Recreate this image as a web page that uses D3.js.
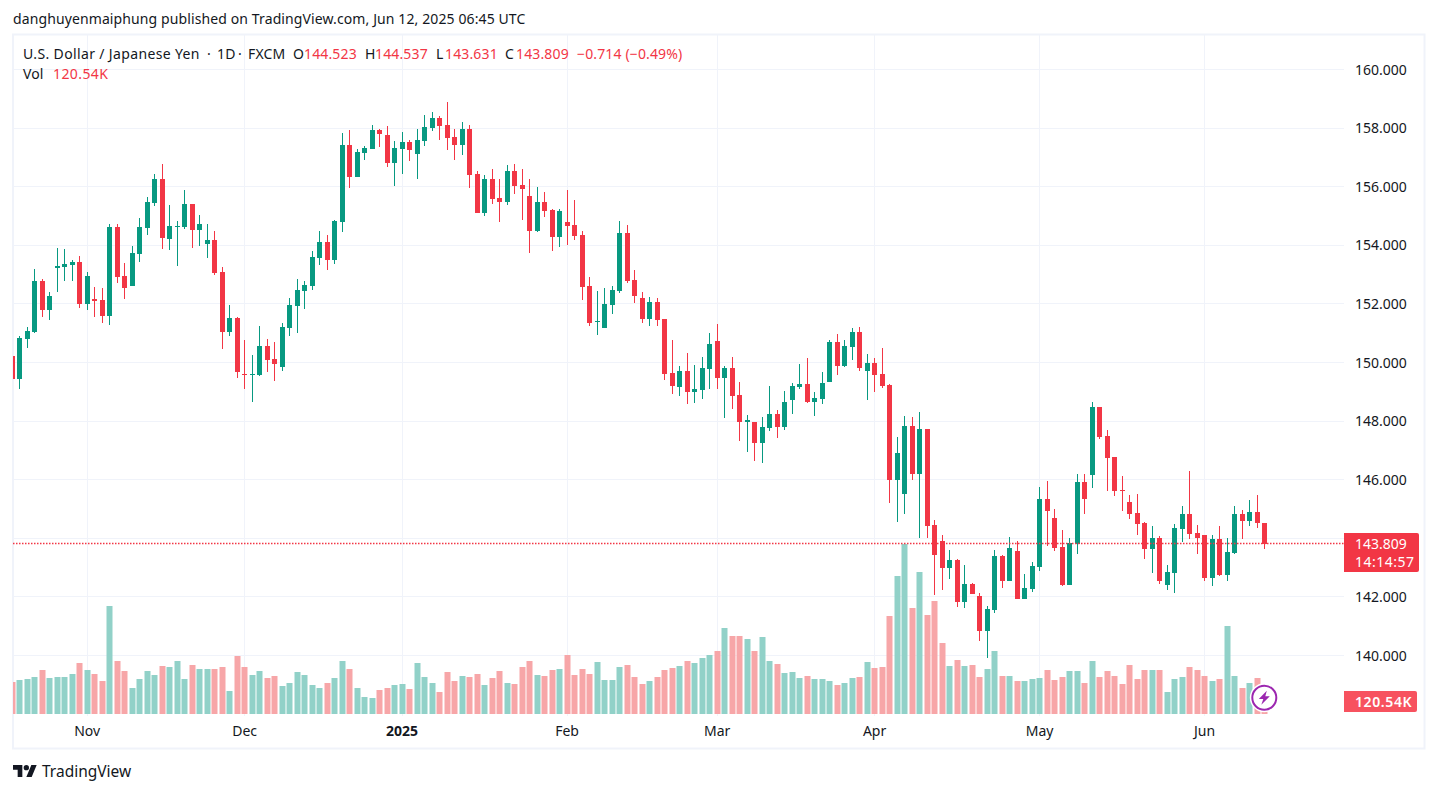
<!DOCTYPE html>
<html><head><meta charset="utf-8">
<script src="https://cdn.jsdelivr.net/npm/d3@7"></script>
<style>html,body{margin:0;padding:0;background:#fff;overflow:hidden}text{font-family:"Noto Sans",sans-serif}</style>
</head><body><svg id="c" width="1438" height="793"></svg>
<script>
const opens=[150.22,149.45,150.81,151.04,152.78,151.79,153.22,153.26,153.33,153.43,
152.00,152.16,152.13,151.59,154.62,152.95,152.61,153.70,154.59,155.44,
156.26,154.21,154.62,154.62,155.41,154.52,154.04,154.18,153.09,151.04,
151.52,149.61,149.57,149.57,150.56,150.12,149.85,151.18,151.93,152.44,
152.61,153.57,154.11,153.50,154.79,157.42,156.33,157.15,157.29,157.93,
157.76,156.81,157.29,157.53,157.12,157.56,158.00,158.34,158.11,157.70,
157.42,157.97,156.43,155.10,156.26,155.61,155.48,156.54,156.06,155.68,
154.49,155.48,155.20,154.28,154.79,154.69,154.35,152.61,151.38,151.18,
151.96,152.44,154.42,152.82,152.20,151.48,152.06,151.48,149.64,149.16,
149.71,148.99,149.06,149.77,150.73,149.47,149.81,148.89,147.97,147.97,
147.25,147.76,148.24,147.80,148.72,149.16,149.26,148.65,148.75,149.33,
150.70,149.88,150.53,151.04,149.71,149.98,149.60,149.23,145.99,145.51,
147.83,146.19,147.73,144.45,143.90,142.98,143.26,141.82,142.44,142.03,
140.83,141.55,143.39,142.54,143.56,141.93,142.27,143.02,145.34,144.69,
143.70,142.40,143.80,145.92,146.16,148.48,147.49,146.77,145.65,145.24,
144.86,144.52,143.63,144.01,142.40,142.81,144.32,144.83,144.18,144.11,
142.64,143.97,142.75,143.50,144.83,144.59,144.90,144.523];
const highs=[150.22,150.90,151.20,153.18,152.84,152.41,153.90,153.86,153.50,153.63,
153.08,152.58,152.53,154.73,154.72,153.40,153.98,154.93,155.65,156.43,
156.77,155.37,154.83,155.89,155.41,155.03,154.73,154.49,153.26,151.96,
151.55,150.77,150.26,151.25,150.80,150.70,151.35,152.20,152.85,152.78,
153.80,154.49,154.35,154.86,157.83,157.93,157.29,157.39,158.11,157.97,
158.07,157.56,157.87,157.59,157.97,158.45,158.55,158.41,158.89,157.97,
158.21,158.11,156.54,156.40,156.60,156.26,156.74,156.77,156.60,156.26,
155.99,155.82,155.24,155.24,155.89,155.55,154.49,152.92,152.44,152.54,
152.61,154.83,154.69,153.16,152.41,152.23,152.20,151.50,150.76,149.88,
150.32,149.91,150.18,151.00,151.31,149.88,150.18,149.33,148.20,147.97,
148.14,149.19,148.38,149.02,149.30,149.95,150.15,148.99,149.67,150.76,
150.97,150.76,151.17,151.21,150.29,150.15,150.49,149.26,147.45,148.17,
148.14,148.31,147.73,144.62,144.11,143.60,143.29,143.09,142.47,142.13,
141.69,143.60,143.43,144.04,143.91,142.78,143.19,145.75,145.95,145.00,
144.28,144.01,146.19,146.19,148.65,148.48,147.69,146.77,146.12,145.48,
145.51,144.55,144.42,144.08,143.09,144.49,145.10,146.30,144.45,144.11,
144.11,144.42,144.01,145.10,144.96,145.31,145.48,144.537];
const lows=[149.45,149.09,150.51,151.01,151.55,151.45,152.41,152.78,152.78,151.86,
151.79,151.55,151.36,151.28,152.72,152.17,152.61,153.43,154.35,155.34,
153.87,153.84,153.29,154.56,153.91,153.98,153.57,152.99,150.46,150.90,
149.47,149.09,148.65,149.54,149.68,149.37,149.71,150.90,151.01,151.83,
152.47,153.33,153.16,153.36,154.45,155.96,156.33,156.91,157.29,157.35,
156.67,156.02,156.43,156.88,156.26,157.39,157.90,157.59,157.25,156.91,
157.08,155.96,155.10,155.00,155.41,154.79,155.37,155.75,154.86,153.74,
154.45,154.97,153.80,153.94,154.01,154.18,152.13,151.25,150.94,151.18,
151.65,152.37,152.71,152.03,151.35,151.25,151.24,149.40,148.92,148.85,
148.58,148.61,148.75,149.09,149.09,148.10,148.41,147.32,146.94,146.63,
146.57,147.66,147.42,147.69,148.24,149.09,148.61,148.17,148.58,149.33,
149.57,149.84,150.08,149.71,148.72,148.99,149.13,145.20,144.55,144.83,
145.99,144.01,144.01,142.06,142.23,142.61,141.65,141.62,142.10,140.49,
139.91,141.45,142.30,142.54,141.93,141.93,142.17,142.88,143.74,143.56,
142.37,142.40,143.46,144.83,145.72,147.39,145.61,145.44,144.93,144.66,
144.11,143.29,142.81,142.44,142.23,142.13,143.87,143.97,143.46,142.54,
142.37,142.71,142.54,143.46,143.97,144.42,144.35,143.631];
const closes=[149.45,150.84,151.07,152.78,151.79,152.27,153.29,153.36,153.43,152.00,
152.95,152.10,151.59,154.62,152.92,152.54,153.74,154.62,155.48,156.26,
154.25,154.66,154.66,155.41,154.52,154.73,154.18,153.05,151.04,151.52,
149.68,149.57,149.61,150.56,150.08,149.95,151.21,151.96,152.47,152.64,
153.60,154.11,153.50,154.83,157.42,156.33,157.18,157.32,157.93,157.80,
156.81,157.32,157.53,157.25,157.59,158.04,158.34,158.07,157.66,157.42,
157.97,156.40,155.10,156.26,155.58,155.48,156.54,156.02,155.92,154.49,
155.48,155.17,154.28,155.17,154.66,154.32,152.58,151.35,151.42,152.00,
152.47,154.42,152.78,152.27,151.48,152.06,151.45,149.60,149.19,149.71,
148.99,149.09,149.81,150.63,149.47,149.81,148.85,147.97,148.03,147.25,
147.80,148.24,147.80,148.65,149.19,149.26,148.65,148.79,149.30,150.70,
149.88,150.56,151.04,149.81,149.98,149.57,149.19,145.99,146.91,147.83,
146.19,147.73,144.42,143.43,142.98,143.26,141.82,142.44,142.10,140.83,
141.59,143.39,142.54,143.67,141.93,142.30,143.05,145.34,144.93,143.67,
142.40,143.84,145.92,145.34,148.48,147.46,146.74,145.61,145.61,144.83,
144.49,143.63,144.01,142.54,142.85,144.35,144.83,144.15,144.01,142.64,
143.97,142.75,143.53,144.83,144.59,144.90,144.52,143.809];
const volumes=[311,327,337,356,424,347,356,356,385,491,
424,385,318,1040,510,414,250,337,414,376,
462,453,510,337,472,433,433,433,453,221,
559,453,376,414,347,366,270,299,404,376,
279,250,299,347,510,433,250,164,154,231,
250,279,289,241,491,356,299,212,404,318,
366,356,385,279,347,414,299,289,453,510,
376,366,424,433,568,376,433,385,501,327,
327,453,472,356,289,318,356,424,443,462,
510,491,539,568,607,828,751,751,722,607,
742,510,482,395,404,347,366,337,337,318,
279,299,347,356,501,443,453,944,1329,1637,
1021,1367,953,1088,684,462,520,462,472,356,
433,607,366,366,318,318,337,347,424,327,
356,414,414,299,510,356,414,366,289,472,
337,424,424,424,212,337,356,453,424,366,
318,337,847,366,250,299,347,120.54];
const priceTicks=[140,142,144,146,148,150,152,154,156,158,160];
const monthIndex=[10,31,52,74,94,115,137,159];
const monthLabels=["Nov","Dec","2025","Feb","Mar","Apr","May","Jun"];
const lastPrice=143.809;
const titleText="danghuyenmaiphung published on TradingView.com, Jun 12, 2025 06:45 UTC";

const UP="#089981",DOWN="#F23645",TXT="#131722",GRID="#f0f3fa";
const svg=d3.select("#c");
const x=d3.scaleLinear().domain([0,167]).range([11.9,1264.4]);
const y=d3.scaleLinear().domain([140,160]).range([655.5,69.5]);
const v=d3.scaleLinear().domain([0,1637]).range([714,544]);
const px=i=>Math.round(x(i));
const crisp=p=>Math.round(p);

svg.append("rect").attr("width",1438).attr("height",793).attr("fill","#fff");
const defs=svg.append("defs");
defs.append("clipPath").attr("id","pane").append("rect").attr("x",13).attr("y",35).attr("width",1331).attr("height",681);

svg.append("rect").attr("x",13).attr("y",34.5).attr("width",1411.5).attr("height",714)
  .attr("fill","none").attr("stroke",GRID).attr("stroke-width",2);

svg.append("g").selectAll("line").data(priceTicks).join("line")
  .attr("x1",13).attr("x2",1344).attr("y1",d=>Math.floor(y(d))+.5).attr("y2",d=>Math.floor(y(d))+.5)
  .attr("stroke",GRID);
svg.append("g").selectAll("line").data(monthIndex).join("line")
  .attr("x1",d=>px(d)+.5).attr("x2",d=>px(d)+.5).attr("y1",35).attr("y2",716)
  .attr("stroke",GRID);

const idx=d3.range(opens.length);
const plot=svg.append("g").attr("clip-path","url(#pane)");
plot.append("g").selectAll("rect").data(idx).join("rect")
  .attr("x",i=>px(i)-2.5).attr("width",6)
  .attr("y",i=>crisp(v(volumes[i]))).attr("height",i=>714-crisp(v(volumes[i])))
  .attr("fill",i=>closes[i]>=opens[i]?"#91d1c8":"#f7a6a8");

const yAxis=d3.axisRight(y).tickValues(priceTicks).tickFormat(d3.format(".3f")).tickSize(0).tickPadding(11);
const ya=svg.append("g").attr("transform","translate(1344,0.2)").call(yAxis);
ya.select(".domain").remove();
ya.selectAll("text").attr("fill",TXT).attr("font-size",14).style("font-family",'"Noto Sans",sans-serif');

const xAxis=d3.axisBottom(x).tickValues(monthIndex).tickFormat((d,i)=>monthLabels[i]).tickSize(0).tickPadding(10);
const xa=svg.append("g").attr("transform","translate(-0.3,716)").call(xAxis);
xa.select(".domain").remove();
xa.selectAll("text").attr("fill",TXT).attr("font-size",14).style("font-family",'"Noto Sans",sans-serif')
  .attr("font-weight",(d,i)=>monthLabels[i]==="2025"?700:400);

plot.append("g").selectAll("rect").data(idx).join("rect")
  .attr("x",i=>px(i)).attr("width",1)
  .attr("y",i=>crisp(y(highs[i]))).attr("height",i=>Math.max(1,crisp(y(lows[i]))-crisp(y(highs[i]))))
  .attr("fill",i=>closes[i]>=opens[i]?UP:DOWN);
plot.append("g").selectAll("rect").data(idx).join("rect")
  .attr("x",i=>px(i)-2).attr("width",5)
  .attr("y",i=>crisp(y(Math.max(opens[i],closes[i]))))
  .attr("height",i=>Math.max(1,crisp(y(Math.min(opens[i],closes[i])))-crisp(y(Math.max(opens[i],closes[i])))))
  .attr("fill",i=>closes[i]>=opens[i]?UP:DOWN);

svg.append("line").attr("x1",13).attr("x2",1344).attr("y1",Math.floor(y(lastPrice))+.5).attr("y2",Math.floor(y(lastPrice))+.5)
  .attr("stroke",DOWN).attr("stroke-width",1.3).attr("stroke-dasharray","1.5 1.5");

const ly=Math.round(y(lastPrice));
svg.append("path").attr("fill",DOWN)
  .attr("d",`M1344,${ly-11}H1417a2,2 0 0 1 2,2V${ly+26}a2,2 0 0 1 -2,2H1344Z`);
svg.append("text").attr("x",1355).attr("y",ly+5).attr("fill","#fff").attr("font-size",14).text(d3.format(".3f")(lastPrice));
svg.append("text").attr("x",1355).attr("y",ly+23).attr("fill","#fff").attr("font-size",14).attr("letter-spacing",.5).text("14:14:57");
svg.append("path").attr("fill","#f7525f").attr("d","M1344,691H1415a2,2 0 0 1 2,2V710a2,2 0 0 1 -2,2H1344Z");
svg.append("text").attr("x",1355).attr("y",706.5).attr("fill","#fff").attr("font-size",14).attr("font-weight",600).attr("letter-spacing",.6).text("120.54K");

svg.append("text").attr("x",13).attr("y",24).attr("fill",TXT).attr("font-size",14).attr("letter-spacing",.11).text(titleText);

const legend=[["U.S. Dollar / Japanese Yen",23,59,TXT,.36],["·",207,59,TXT,.14],["1D",217,59,TXT,.14],["·",238,59,TXT,.14],["FXCM",248,59,TXT,.14],
 ["O",293,59,TXT,.14],["144.523",304,59,DOWN,.14],
 ["H",365,59,TXT,.14],["144.537",375,59,DOWN,.14],
 ["L",436,59,TXT,.14],["143.631",445,59,DOWN,.14],
 ["C",505,59,TXT,.14],["143.809",516,59,DOWN,.14],
 ["−0.714 (−0.49%)",577,59,DOWN,.14],
 ["Vol",23,79,TXT,.14],["120.54K",53,79,DOWN,.4]];
svg.append("g").selectAll("text").data(legend).join("text")
  .attr("x",d=>d[1]).attr("y",d=>d[2]).attr("fill",d=>d[3]).attr("font-size",14).attr("letter-spacing",d=>d[4]).text(d=>d[0]);

const ic=svg.append("g").attr("transform","translate(1264.3,697.7)");
ic.append("circle").attr("r",14.5).attr("fill","#fff");
ic.append("circle").attr("r",12).attr("fill","#fff").attr("stroke","#9c27b0").attr("stroke-width",2);
ic.append("path").attr("fill","#9c27b0").attr("d","M2.5,-7L-5.5,1.2H-1L-3,7L5.5,-1.5H1Z");

svg.append("path").attr("transform","translate(13,762.3) scale(.667)").attr("fill",TXT).attr("d","M14 22H7V11H0V4h14v18zM28 22h-8l7.5-18h8L28 22z");
svg.append("circle").attr("cx",13+20*.667).attr("cy",762.3+8*.667).attr("r",4*.667).attr("fill",TXT);
svg.append("text").attr("x",42).attr("y",777).attr("fill",TXT).attr("font-size",15.5).text("TradingView");
</script></body></html>
